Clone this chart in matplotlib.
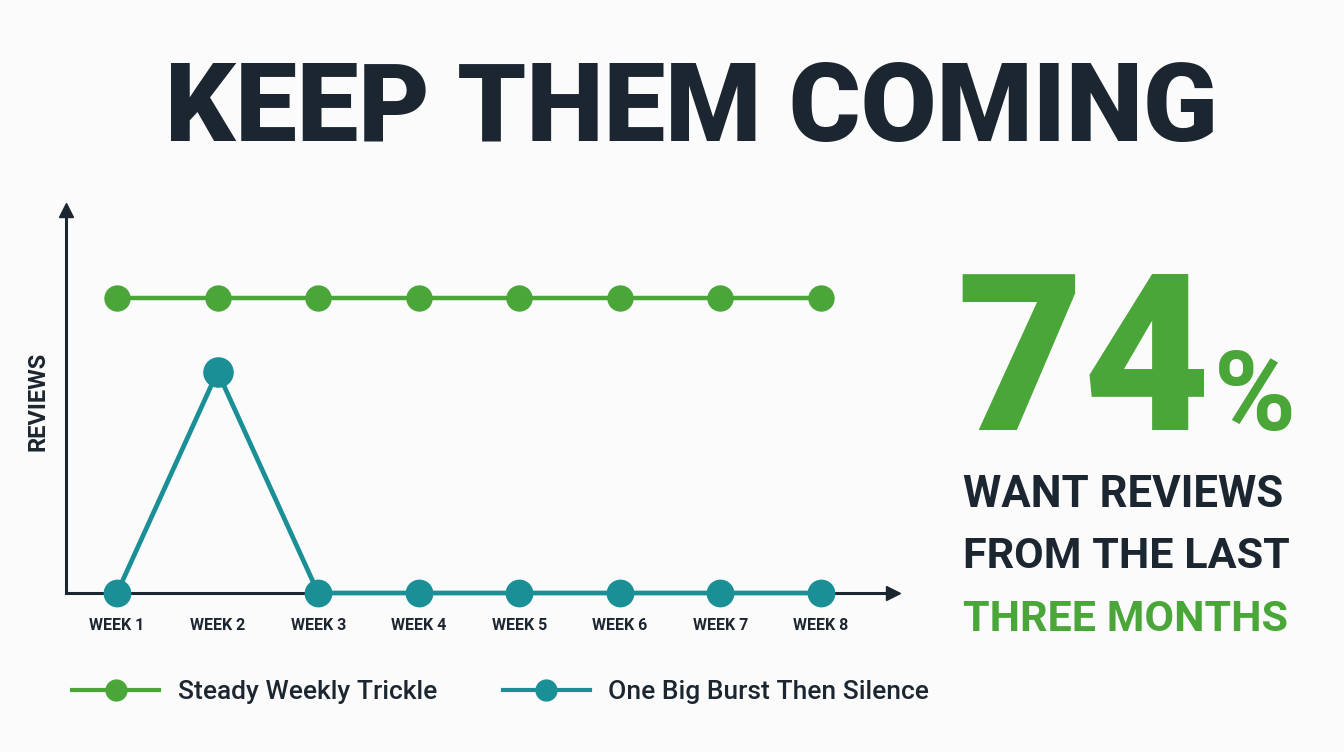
import matplotlib.pyplot as plt
from matplotlib.lines import Line2D

plt.rcParams['font.family'] = ['Roboto', 'DejaVu Sans']

weeks = ['WEEK 1', 'WEEK 2', 'WEEK 3', 'WEEK 4', 'WEEK 5', 'WEEK 6', 'WEEK 7', 'WEEK 8']
steady = [4, 4, 4, 4, 4, 4, 4, 4]
burst = [0, 3, 0, 0, 0, 0, 0, 0]
series_names = ['Steady Weekly Trickle', 'One Big Burst Then Silence']

green = '#4ba63a'
teal = '#1a8f96'
dark = '#1c2630'
bg = '#fbfbfb'

fig = plt.figure(figsize=(13.44, 7.52), dpi=100, facecolor=bg)

# axes placed by pixel position of the reference
W, H = 1344, 752
ax = fig.add_axes([66 / W, (H - 593) / H, (893 - 66) / W, (593 - 210) / H])
ax.set_facecolor(bg)

x = list(range(1, len(weeks) + 1))
ax.set_xlim(0.493, 8.716)
ax.set_ylim(0, 5.19)

ax.plot(x, steady, color=green, lw=3.2, marker='o', ms=18, clip_on=False, zorder=3)
ax.plot(x, burst, color=teal, lw=3.4, marker='o', ms=19, clip_on=False, zorder=4)
# bigger dot on the peak
peak = burst.index(max(burst))
ax.plot(x[peak], burst[peak], 'o', color=teal, ms=21, zorder=5)

for s in ['top', 'right']:
    ax.spines[s].set_visible(False)
for s in ['left', 'bottom']:
    ax.spines[s].set_color(dark)
    ax.spines[s].set_linewidth(2.2)

# arrow heads
ax.plot(1, 0, '>', color=dark, ms=10, transform=ax.transAxes, clip_on=False)
ax.plot(0, 1, '^', color=dark, ms=10, transform=ax.transAxes, clip_on=False)

ax.set_xticks(x)
ax.set_xticklabels(weeks, fontsize=11.5, fontweight='bold', color=dark)
ax.tick_params(axis='x', length=0, pad=18)
ax.set_yticks([])
ax.set_ylabel('REVIEWS', fontsize=17, fontweight='bold', color=dark, labelpad=12)

# title
fig.text(691 / W, 1 - 111 / H, 'KEEP THEM COMING', ha='center', va='center',
         fontsize=79, fontweight='black', color=dark)

# big stat on the right
fig.text(956 / W, 1 - 430 / H, '74', ha='left', va='baseline',
         fontsize=158, fontweight='black', color=green)
fig.text(1214 / W, 1 - 430 / H, '%', ha='left', va='baseline',
         fontsize=80, fontweight='bold', color=green)
fig.text(963 / W, 1 - 507 / H, 'WANT REVIEWS', ha='left', va='baseline',
         fontsize=31.5, fontweight='bold', color=dark)
fig.text(963 / W, 1 - 568 / H, 'FROM THE LAST', ha='left', va='baseline',
         fontsize=31, fontweight='bold', color=dark)
fig.text(963 / W, 1 - 631 / H, 'THREE MONTHS', ha='left', va='baseline',
         fontsize=31, fontweight='bold', color=green)

handles = [Line2D([], [], color=green, lw=3, marker='o', ms=15),
           Line2D([], [], color=teal, lw=3, marker='o', ms=15)]
fig.legend(handles, series_names, loc='center left', bbox_to_anchor=(0.036, 1 - 692 / H),
           ncol=2, frameon=False, handlelength=3.3, handletextpad=0.7,
           columnspacing=2.5, labelcolor=dark,
           prop={'family': 'Roboto', 'weight': 'medium', 'size': 19})

fig.savefig('out.png', dpi=100, facecolor=bg)
